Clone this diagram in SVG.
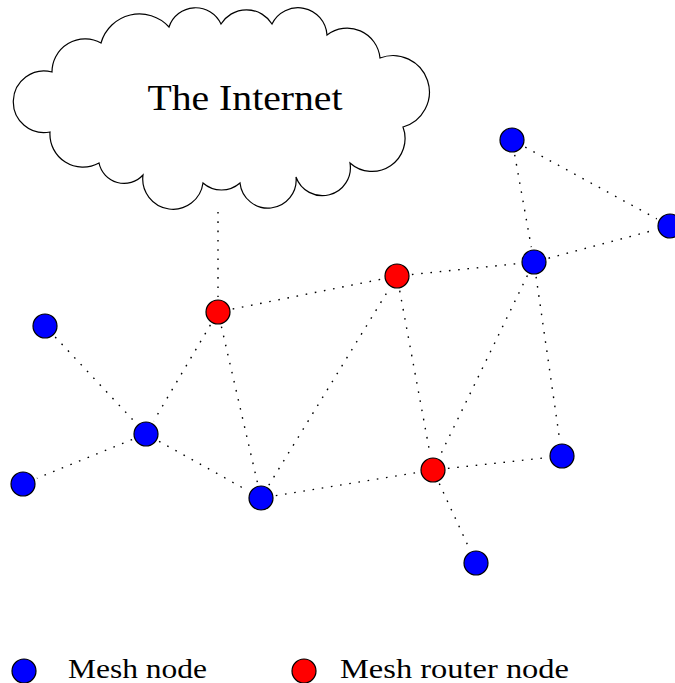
<svg xmlns="http://www.w3.org/2000/svg" width="675" height="683" viewBox="0 0 675 683">
  <style>
    .link { stroke: #000; stroke-width: 1.4; stroke-dasharray: 1.6 7.7; fill: none; }
    .mesh { fill: #0000ff; stroke: #000; stroke-width: 1.2; }
    .router { fill: #ff0000; stroke: #000; stroke-width: 1.2; }
    .label { font-family: "Liberation Serif", "DejaVu Serif", serif; fill: #000; }
  </style>
  <rect width="675" height="683" fill="#fff"/>

  <!-- Internet cloud -->
  <g id="internet">
    <path d="M101,43 A40,40 0 0 1 169,27 A28,28 0 0 1 221,24 A30,30 0 0 1 272,24 A29,29 0 0 1 327,35 A33,33 0 0 1 380,58 A36.4,36.4 0 1 1 403,127 A33,33 0 0 1 350,163 A28,28 0 0 1 296,177 A28,28 0 0 1 240,183 A28,28 0 0 1 203,183 A30,30 0 0 1 143,175 A25.6,25.6 0 0 1 99,163 A33,33 0 0 1 50,132 A30.8,30.8 0 1 1 52,72 A33,33 0 0 1 101,43 Z" fill="#fff" stroke="#000" stroke-width="1.2"/>
    <text class="label" x="245" y="110" font-size="36" text-anchor="middle" textLength="195" lengthAdjust="spacingAndGlyphs">The Internet</text>
  </g>

  <!-- Wireless links -->
  <g id="links">
    <line class="link" x1="218" y1="212" x2="218" y2="297"/>
    <line class="link" x1="232.7" y1="309" x2="382.3" y2="279"/>
    <line class="link" x1="411.9" y1="274.5" x2="519.1" y2="263.5"/>
    <line class="link" x1="548.5" y1="258.2" x2="655.5" y2="229.8"/>
    <line class="link" x1="525.2" y1="147.2" x2="656.8" y2="218.8"/>
    <line class="link" x1="514.7" y1="154.8" x2="531.3" y2="247.2"/>
    <line class="link" x1="210.4" y1="324.9" x2="153.6" y2="421.1"/>
    <line class="link" x1="221.4" y1="326.6" x2="257.6" y2="483.4"/>
    <line class="link" x1="55.2" y1="337" x2="135.8" y2="423"/>
    <line class="link" x1="132.1" y1="439.6" x2="36.9" y2="478.3"/>
    <line class="link" x1="159.1" y1="441.3" x2="247.9" y2="490.7"/>
    <line class="link" x1="268.8" y1="485.2" x2="389.2" y2="288.8"/>
    <line class="link" x1="275.8" y1="495.6" x2="418.2" y2="472.4"/>
    <line class="link" x1="399.7" y1="290.7" x2="430.3" y2="455.3"/>
    <line class="link" x1="527.4" y1="275.5" x2="439.6" y2="456.5"/>
    <line class="link" x1="536.1" y1="276.8" x2="559.9" y2="441.2"/>
    <line class="link" x1="447.9" y1="468.4" x2="547.1" y2="457.6"/>
    <line class="link" x1="439.3" y1="483.6" x2="469.7" y2="549.4"/>
  </g>

  <!-- Router nodes -->
  <g id="router1"><circle class="router" cx="218" cy="312" r="12"/></g>
  <g id="router2"><circle class="router" cx="397" cy="276" r="12"/></g>
  <g id="router3"><circle class="router" cx="433" cy="470" r="12"/></g>

  <!-- Mesh nodes -->
  <g id="mesh1"><circle class="mesh" cx="512" cy="140" r="12"/></g>
  <g id="mesh2"><circle class="mesh" cx="670" cy="226" r="12"/></g>
  <g id="mesh3"><circle class="mesh" cx="534" cy="262" r="12"/></g>
  <g id="mesh4"><circle class="mesh" cx="45" cy="326" r="12"/></g>
  <g id="mesh5"><circle class="mesh" cx="146" cy="434" r="12"/></g>
  <g id="mesh6"><circle class="mesh" cx="23" cy="484" r="12"/></g>
  <g id="mesh7"><circle class="mesh" cx="261" cy="498" r="12"/></g>
  <g id="mesh8"><circle class="mesh" cx="562" cy="456" r="12"/></g>
  <g id="mesh9"><circle class="mesh" cx="476" cy="563" r="12"/></g>

  <!-- Legend -->
  <g id="legend-mesh">
    <circle class="mesh" cx="24" cy="671" r="12"/>
    <text class="label" x="68" y="678" font-size="28" textLength="139" lengthAdjust="spacingAndGlyphs">Mesh node</text>
  </g>
  <g id="legend-router">
    <circle class="router" cx="304" cy="671" r="12"/>
    <text class="label" x="340" y="678" font-size="28" textLength="229" lengthAdjust="spacingAndGlyphs">Mesh router node</text>
  </g>
</svg>
